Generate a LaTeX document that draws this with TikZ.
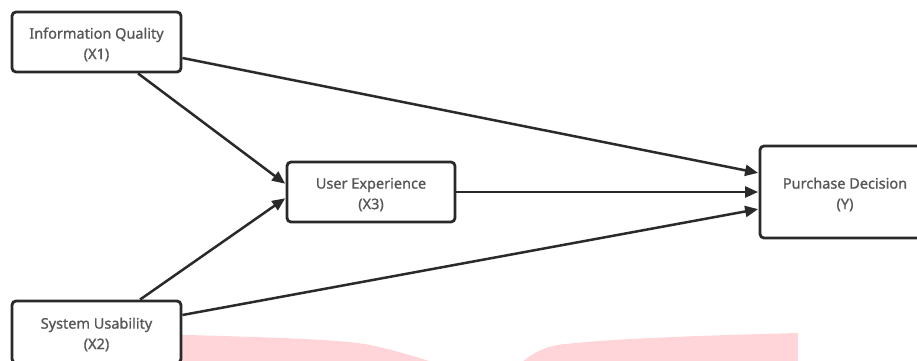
\documentclass[tikz,border=0pt]{standalone}
\usepackage{fontspec}
\setmainfont{Noto Sans}[FakeBold=1.0]
\usetikzlibrary{arrows.meta}
\definecolor{linec}{HTML}{2A2A2A}
\definecolor{textc}{HTML}{575757}
\definecolor{wmark}{HTML}{FFD5D9}
\tikzset{
  varbox/.style={draw=linec, line width=2.8pt, rounded corners=4pt, fill=white,
    align=center, text=textc, inner sep=0pt,
    font=\fontsize{14.5}{21.5}\selectfont},
  link/.style={draw=linec, line width=2.5pt,
    -{Triangle[length=13pt,width=11pt]}, shorten >=0.5pt}
}
\newcommand{\toprule}{\rule{0pt}{15pt}}
\begin{document}
\begin{tikzpicture}[x=1pt,y=-1pt]
\useasboundingbox (0,0) rectangle (917,360);
% faint watermark fragments
\fill[wmark] (152,334) .. controls (300,338) and (350,340) .. (375,346)
  .. controls (400,352) and (420,358) .. (432,362) -- (152,362) -- cycle;
\fill[wmark] (522,362) .. controls (535,352) and (545,346) .. (565,344)
  .. controls (620,338) and (720,335) .. (798,333) -- (798,362) -- cycle;
% boxes
\node[varbox, minimum width=169pt, minimum height=60pt] (x1) at (96.5,42) {\toprule\raisebox{-1pt}{Information Quality}\\(X1)};
\node[varbox, minimum width=169pt, minimum height=62pt] (x2) at (96.5,332) {\toprule\raisebox{-1pt}{System Usability}\\(X2)};
\node[varbox, minimum width=168pt, minimum height=60pt] (x3) at (371,192) {\toprule\raisebox{-1pt}{User Experience}\\(X3)};
\node[varbox, minimum width=170pt, minimum height=92pt] (y) at (845,192) {\toprule\raisebox{-1pt}{Purchase Decision}\\(Y)};
% connectors
\draw[link] ([yshift=-16pt]x1.east) -- ([yshift=19pt]y.west);
\draw[link] ([xshift=41.5pt]x1.south) -- ([yshift=8pt]x3.west);
\draw[link] ([xshift=43.5pt]x2.north) -- ([yshift=-6pt]x3.west);
\draw[link] ([yshift=17pt]x2.east) -- ([yshift=-17pt]y.west);
\draw[link] (x3.east) -- (y.west);
\end{tikzpicture}
\end{document}
